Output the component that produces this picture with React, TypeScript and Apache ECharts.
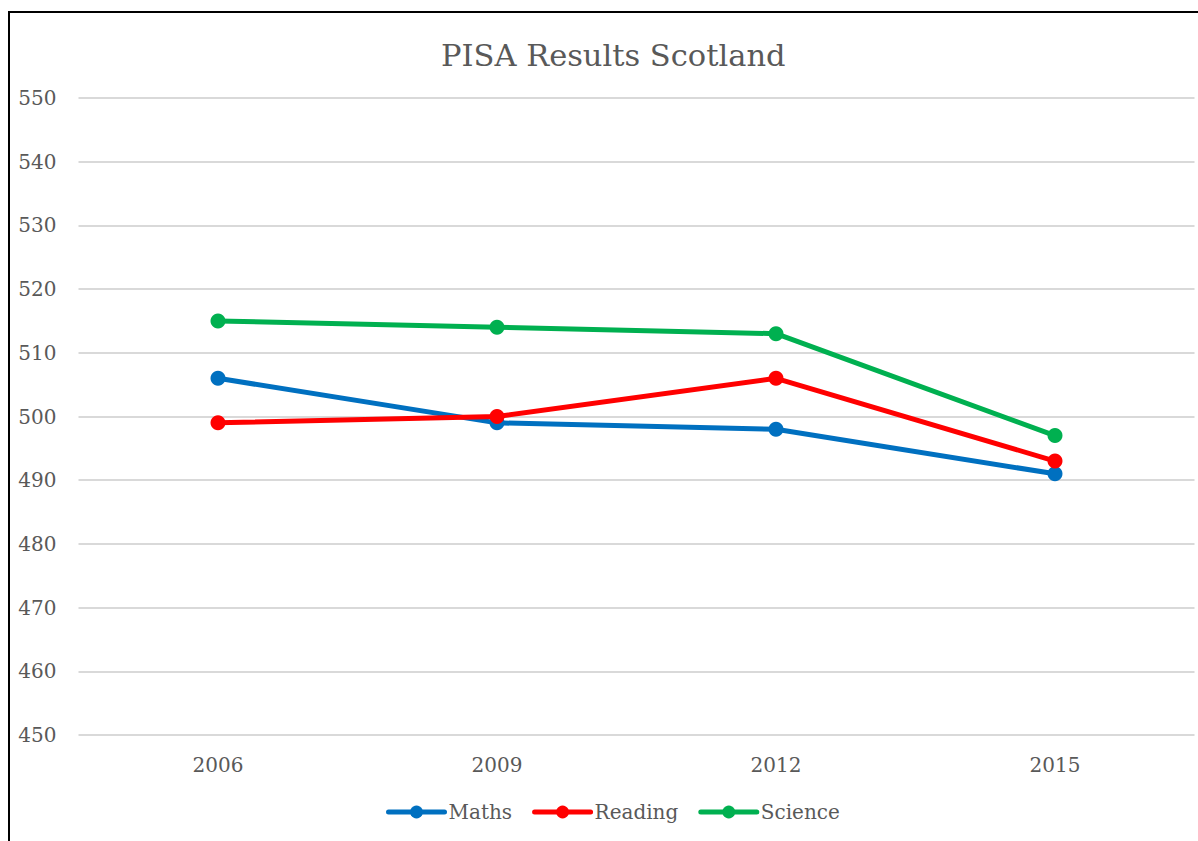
import React, { useEffect, useRef } from "react";
import * as echarts from "echarts";

const categories = ["2006", "2009", "2012", "2015"];
const maths = [506, 499, 498, 491];
const reading = [499, 500, 506, 493];
const science = [515, 514, 513, 497];
const seriesNames = ["Maths", "Reading", "Science"];
const colors = ["#0070C0", "#FF0000", "#00B050"];

const FONT = "'DejaVu Serif', serif";

export default function App() {
  const ref = useRef<HTMLDivElement>(null);
  useEffect(() => {
    const chart = echarts.init(ref.current!, null, { renderer: "svg" });
    const data = [maths, reading, science];
    chart.setOption({
      animation: false,
      textStyle: { fontFamily: FONT },
      graphic: [
        {
          type: "text",
          left: 431,
          top: 27,
          style: { text: "PISA Results Scotland", font: `30.5px ${FONT}`, fill: "#595959" },
        },
      ],
      legend: {
        bottom: 14,
        left: 371,
        itemWidth: 56,
        itemHeight: 16,
        itemGap: 20,
        lineStyle: { width: 5, cap: "round" },
        textStyle: { fontSize: 20, color: "#595959", fontFamily: FONT, padding: [0, 0, 0, -1] },
        data: seriesNames,
      },
      grid: { left: 68.5, right: 3.5, top: 85, bottom: 106, containLabel: false },
      xAxis: {
        type: "category",
        data: categories,
        boundaryGap: true,
        axisLine: { show: false },
        axisTick: { show: false },
        axisLabel: { fontSize: 20, color: "#595959", margin: 20, fontFamily: FONT },
      },
      yAxis: {
        type: "value",
        min: 450,
        max: 550,
        interval: 10,
        axisLine: { show: false },
        axisTick: { show: false },
        splitLine: { lineStyle: { color: "#D9D9D9", width: 2 } },
        axisLabel: { fontSize: 20, color: "#595959", margin: 22, fontFamily: FONT },
      },
      series: seriesNames.map((n, i) => ({
        name: n,
        type: "line",
        data: data[i],
        symbol: "circle",
        symbolSize: 15,
        lineStyle: { width: 5, color: colors[i], cap: "round" },
        itemStyle: { color: colors[i] },
      })),
    });
    return () => chart.dispose();
  }, []);
  return (
    <div
      style={{
        position: "absolute",
        left: 8,
        top: 11,
        width: 1190,
        height: 830,
        boxSizing: "border-box",
        borderTop: "2px solid #000",
        borderLeft: "2px solid #000",
        background: "#fff",
      }}
    >
      <div ref={ref} style={{ width: 1188, height: 828 }} />
    </div>
  );
}
